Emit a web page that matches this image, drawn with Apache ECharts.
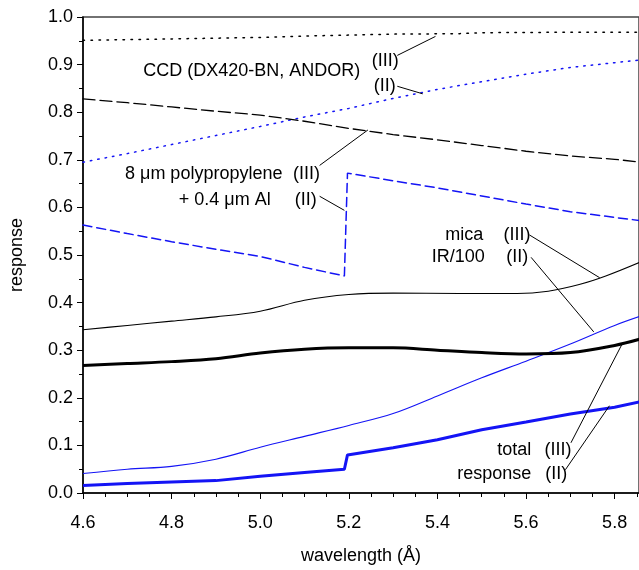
<!DOCTYPE html>
<html><head><meta charset="utf-8">
<script src="https://cdn.jsdelivr.net/npm/echarts@6/dist/echarts.min.js"></script>
<style>html,body{margin:0;padding:0;background:#fff}#c{width:639px;height:570px}</style>
</head><body><div id="c"></div>
<script>
// ---- data (wavelength Å, response) ----
const ccdIII = [[4.6,0.951],[4.8,0.954],[5.0,0.957],[5.1,0.960],[5.2,0.962],[5.3,0.964],[5.45,0.965],[5.5,0.967],[5.7,0.968],[5.86,0.968]];
const ccdII = [[4.6,0.695],[4.7,0.713],[4.8,0.732],[4.9,0.751],[5.0,0.770],[5.1,0.790],[5.2,0.808],[5.3,0.829],[5.4,0.848],[5.5,0.864],[5.6,0.880],[5.7,0.894],[5.8,0.904],[5.86,0.910]];
const polyIII = [[4.6,0.828],[4.7,0.820],[4.8,0.811],[4.9,0.802],[5.0,0.794],[5.1,0.781],[5.2,0.766],[5.3,0.753],[5.4,0.742],[5.5,0.730],[5.6,0.718],[5.7,0.708],[5.8,0.701],[5.86,0.695]];
const polyII = [[4.6,0.563],[4.7,0.545],[4.8,0.528],[4.9,0.512],[5.0,0.497],[5.1,0.474],[5.19,0.456],[5.197,0.672],[5.3,0.656],[5.4,0.641],[5.5,0.624],[5.6,0.607],[5.7,0.591],[5.8,0.579],[5.86,0.572]];
const micaIII = [[4.6,0.343],[4.7,0.352],[4.8,0.361],[4.9,0.370],[5.0,0.382],[5.1,0.405],[5.2,0.417],[5.3,0.420],[5.45,0.419],[5.58,0.419],[5.65,0.424],[5.72,0.438],[5.78,0.456],[5.86,0.486]];
const irII = [[4.6,0.041],[4.7,0.050],[4.8,0.056],[4.9,0.071],[5.0,0.096],[5.1,0.119],[5.2,0.142],[5.3,0.167],[5.4,0.204],[5.5,0.242],[5.6,0.277],[5.7,0.313],[5.8,0.352],[5.86,0.372]];
const totalIII = [[4.6,0.268],[4.7,0.272],[4.8,0.276],[4.9,0.282],[5.0,0.294],[5.1,0.302],[5.2,0.305],[5.3,0.305],[5.4,0.300],[5.5,0.295],[5.6,0.292],[5.7,0.295],[5.8,0.310],[5.86,0.324]];
const totalII = [[4.6,0.016],[4.7,0.020],[4.8,0.023],[4.9,0.026],[5.0,0.035],[5.1,0.043],[5.19,0.050],[5.197,0.080],[5.3,0.095],[5.4,0.112],[5.5,0.133],[5.6,0.149],[5.7,0.166],[5.8,0.180],[5.86,0.192]];

// annotation texts: [text, x, y, align]
const annoLabels = [
  ['CCD (DX420-BN, ANDOR)', 5.226, 0.887, 'right'],
  ['(III)', 5.252, 0.9075, 'left'],
  ['(II)', 5.2564, 0.8545, 'left'],
  ['8 \u03bcm polypropylene', 5.0502, 0.6696, 'right'],
  ['(III)', 5.0740, 0.6696, 'left'],
  ['+ 0.4 \u03bcm Al', 5.0236, 0.6145, 'right'],
  ['(II)', 5.0778, 0.6145, 'left'],
  ['mica', 5.5032, 0.5421, 'right'],
  ['(III)', 5.5492, 0.5421, 'left'],
  ['IR/100', 5.5070, 0.4951, 'right'],
  ['(II)', 5.5552, 0.4951, 'left'],
  ['total', 5.6117, 0.0902, 'right'],
  ['(III)', 5.6417, 0.0902, 'left'],
  ['response', 5.6117, 0.0406, 'right'],
  ['(II)', 5.6432, 0.0406, 'left']
];
// leader lines: [x1, y1, x2, y2]
const leaders = [
  [5.3094,0.9193,5.3956,0.9592],
  [5.3094,0.8545,5.3668,0.8386],
  [5.1341,0.6882,5.2431,0.7627],
  [5.1341,0.6234,5.1900,0.5938],
  [5.6077,0.5421,5.7662,0.4523],
  [5.6114,0.4951,5.7528,0.3385],
  [5.7014,0.1055,5.8177,0.3145],
  [5.6888,0.0488,5.7883,0.1833]
];

const FONT = '"Liberation Sans", Arial, Helvetica, sans-serif';
const BLUE = '#1414f5';

const chart = echarts.init(document.getElementById('c'), null, {renderer:'canvas'});

function lineSeries(data, color, width, type, smooth) {
  return {
    type: 'line', data: data, symbol: 'none', smooth: smooth ? 0.35 : false,
    silent: true, animation: false, z: 3,
    lineStyle: {color: color, width: width, type: type, cap: type === 'solid' ? 'butt' : 'round'}
  };
}

const option = {
  animation: false,
  backgroundColor: '#fff',
  textStyle: {fontFamily: FONT},
  grid: {left: 82, top: 17, width: 568, height: 483, show: true, borderColor: '#444', borderWidth: 1.5, backgroundColor: 'transparent'},
  xAxis: {
    type: 'value', min: 4.6, max: 5.855, interval: 0.2,
    axisLine: {show: true, lineStyle: {color: '#000', width: 1.5}},
    axisTick: {show: true, length: 6, lineStyle: {color: '#000', width: 1}},
    minorTick: {show: true, splitNumber: 4, length: 4, lineStyle: {color: '#000', width: 1}},
    splitLine: {show: false},
    axisLabel: {color: '#000', fontSize: 18, fontFamily: FONT, margin: 21, showMaxLabel: false,
      formatter: v => v.toFixed(1)},
    name: 'wavelength (\u00c5)', nameLocation: 'middle', nameGap: 54,
    nameTextStyle: {color: '#000', fontSize: 18, fontFamily: FONT}
  },
  yAxis: {
    type: 'value', min: 0, max: 1, interval: 0.1,
    axisLine: {show: true, lineStyle: {color: '#000', width: 1.5}},
    axisTick: {show: true, length: 6, lineStyle: {color: '#000', width: 1}},
    minorTick: {show: true, splitNumber: 2, length: 4, lineStyle: {color: '#000', width: 1}},
    splitLine: {show: false},
    axisLabel: {color: '#000', fontSize: 18, fontFamily: FONT, margin: 10,
      formatter: v => v.toFixed(1)},
    name: 'response', nameLocation: 'middle', nameGap: 57,
    nameTextStyle: {color: '#000', fontSize: 18, fontFamily: FONT}
  },
  series: [
    lineSeries(ccdIII, '#000', 1.5, [1.5, 6.5], false),
    lineSeries(ccdII, BLUE, 1.5, [1.5, 6], false),
    lineSeries(polyIII, '#000', 1.3, [12, 5], false),
    lineSeries(polyII, BLUE, 1.5, [9, 5], false),
    lineSeries(micaIII, '#000', 1.1, 'solid', true),
    lineSeries(irII, BLUE, 1.1, 'solid', true),
    lineSeries(totalIII, '#000', 3, 'solid', true),
    lineSeries(totalII, BLUE, 3, 'solid', false),
    {
      type: 'line', data: [], symbol: 'none', silent: true, animation: false,
      markLine: {
        silent: true, symbol: 'none', animation: false,
        label: {show: false},
        lineStyle: {color: '#000', width: 1, type: 'solid'},
        emphasis: {disabled: true},
        data: leaders.map(l => [{coord: [l[0], l[1]]}, {coord: [l[2], l[3]]}])
      }
    }
  ]
};
chart.setOption(option);

const graphics = annoLabels.map(a => {
  const p = chart.convertToPixel({gridIndex: 0}, [a[1], a[2]]);
  return {
    type: 'text', silent: true, z: 10,
    style: {text: a[0], x: p[0], y: p[1], align: a[3], verticalAlign: 'middle',
      font: '18px ' + FONT, fill: '#000'}
  };
});
chart.setOption({graphic: graphics});
</script>
</body></html>
